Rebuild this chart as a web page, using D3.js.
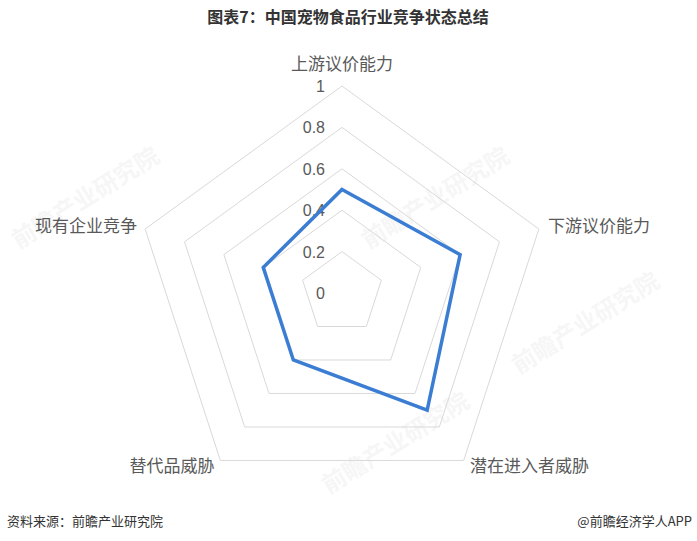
<!DOCTYPE html>
<html><head><meta charset="utf-8">
<script src="https://cdn.jsdelivr.net/npm/d3@7"></script>
<style>body{margin:0;background:#fff;}svg{display:block;font-family:"Noto Sans CJK SC","Noto Sans",sans-serif;}</style>
</head><body>
<script>
const categories = ["上游议价能力","下游议价能力","潜在进入者威胁","替代品威胁","现有企业竞争"];
const values = [0.5, 0.6, 0.7, 0.4, 0.4];
const tickValues = [0, 0.2, 0.4, 0.6, 0.8, 1];
const tickLabels = ["0","0.2","0.4","0.6","0.8","1"];
const title = "图表7：中国宠物食品行业竞争状态总结";
const source = "资料来源：前瞻产业研究院";
const credit = "@前瞻经济学人APP";

const W = 697, H = 541, cx = 342, cy = 293, R = 207;
const svg = d3.select("body").append("svg").attr("width", W).attr("height", H);

// faint watermarks
const wm = [[440,205],[90,205],[590,330],[400,450]];
wm.forEach(([x,y])=>{
  svg.append("text").attr("x",x).attr("y",y).attr("transform",`rotate(-32,${x},${y})`)
    .attr("text-anchor","middle").attr("font-size",24).attr("font-weight","bold")
    .attr("fill","#000").attr("opacity",0.03).text("前瞻产业研究院");
});

const r = d3.scaleLinear().domain([0,1]).range([0,R]);
const ang = d3.scalePoint().domain(categories).range([0, 2*Math.PI*(categories.length-1)/categories.length]);
const pt = (c, v) => { const a = ang(c); return [cx + r(v)*Math.sin(a), cy - r(v)*Math.cos(a)]; };

const g = svg.append("g");
// grid
tickValues.filter(t=>t>0).forEach(t=>{
  g.append("polygon").attr("points", categories.map(c=>pt(c,t).join(",")).join(" "))
    .attr("fill","none").attr("stroke","#d9d9d9").attr("stroke-width",1);
});
// tick labels
tickValues.forEach((t,i)=>{
  g.append("text").attr("x", cx-17).attr("y", cy - r(t) + 6)
    .attr("text-anchor","end").attr("font-size",16).attr("fill","#595959")
    .attr("font-family","'Liberation Sans','Noto Sans',sans-serif")
    .text(tickLabels[i]);
});
// data
const line = d3.line().curve(d3.curveLinearClosed);
g.append("path").attr("d", line(categories.map((c,i)=>pt(c,values[i]))))
  .attr("fill","none").attr("stroke","#3C7DD4").attr("stroke-width",3.5).attr("stroke-linejoin","miter");

// axis labels
const labelPos = [
  {x:342, y:70, a:"middle"},
  {x:548, y:232, a:"start"},
  {x:470, y:472, a:"start"},
  {x:172, y:472, a:"middle"},
  {x:137, y:232, a:"end"}
];
categories.forEach((c,i)=>{
  const p = labelPos[i];
  g.append("text").attr("x",p.x).attr("y",p.y).attr("text-anchor",p.a)
    .attr("font-size",17).attr("fill","#595959").text(c);
});

svg.append("text").attr("x",348).attr("y",23).attr("text-anchor","middle")
  .attr("font-size",16).attr("font-weight","bold").attr("fill","#333").text(title);
svg.append("text").attr("x",7).attr("y",526).attr("font-size",13).attr("fill","#333").text(source);
svg.append("text").attr("x",692).attr("y",526).attr("text-anchor","end").attr("font-size",13).attr("fill","#333").text(credit);
</script>
</body></html>
